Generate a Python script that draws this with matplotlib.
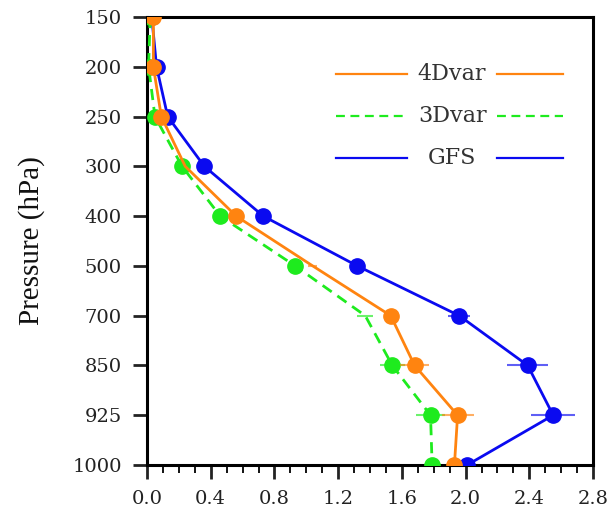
import numpy as np
import matplotlib
matplotlib.use("Agg")
import matplotlib.pyplot as plt

# Pressure levels (hPa), top of the profile first
levels = [150, 200, 250, 300, 400, 500, 700, 850, 925, 1000]

# Profiles of each experiment at those levels
vals_4dvar = [0.04, 0.04, 0.09, 0.24, 0.56, 1.04, 1.53, 1.68, 1.95, 1.93]
vals_3dvar = [0.02, 0.01, 0.05, 0.22, 0.46, 0.93, 1.37, 1.54, 1.78, 1.79]
vals_gfs = [0.03, 0.06, 0.13, 0.36, 0.73, 1.32, 1.96, 2.39, 2.55, 2.01]

# Horizontal half-widths of the spread bars
err_4dvar = [0.0, 0.0, 0.0, 0.0, 0.0, 0.03, 0.03, 0.09, 0.10, 0.0]
err_3dvar = [0.0, 0.0, 0.0, 0.0, 0.0, 0.0, 0.05, 0.08, 0.09, 0.0]
err_gfs = [0.0, 0.0, 0.0, 0.0, 0.0, 0.0, 0.07, 0.13, 0.14, 0.0]

# Whether a dot is drawn at each level
dots_4dvar = [1, 1, 1, 0, 1, 0, 1, 1, 1, 1]
dots_3dvar = [1, 1, 1, 1, 1, 1, 0, 1, 1, 1]
dots_gfs = [1, 1, 1, 1, 1, 1, 1, 1, 1, 1]

x_ticks = [0.0, 0.4, 0.8, 1.2, 1.6, 2.0, 2.4, 2.8]

c_4d = "#FF8410"
c_3d = "#1EEB1E"
c_gfs = "#0A0AF0"

serif_wide = ["DejaVu Serif"]
serif = ["Liberation Serif", "DejaVu Serif"]

fig = plt.figure(figsize=(6.15, 5.09), dpi=100)
ax = fig.add_axes([147 / 615, 1 - 465 / 509, 446 / 615, 448 / 509])

ypos = np.arange(len(levels))


def draw(vals, errs, dots, color, ls, z):
    vals = np.asarray(vals, float)
    errs = np.asarray(errs, float)
    m = np.asarray(dots, bool)
    ax.plot(vals, ypos, color=color, lw=2.0, ls=ls, zorder=z)
    e = errs > 0
    ax.hlines(ypos[e], vals[e] - errs[e], vals[e] + errs[e], color=color,
              lw=1.5, alpha=0.65, zorder=z)
    ax.plot(vals[m], ypos[m], "o", color=color, ms=11, mec=color, zorder=z + 0.5)


draw(vals_gfs, err_gfs, dots_gfs, c_gfs, "-", 3)
draw(vals_3dvar, err_3dvar, dots_3dvar, c_3d, (0, (4, 2.5)), 4)
draw(vals_4dvar, err_4dvar, dots_4dvar, c_4d, "-", 5)

ax.set_xlim(0, 2.8)
ax.set_ylim(len(levels) - 1, 0)
ax.set_xticks(x_ticks)
ax.set_xticklabels([f"{t:.1f}" for t in x_ticks])
ax.set_xticks(np.arange(0, 2.81, 0.1), minor=True)
ax.set_yticks(ypos)
ax.set_yticklabels([str(l) for l in levels])

for s in ax.spines.values():
    s.set_linewidth(2.2)
ax.tick_params(axis="both", which="major", direction="out", length=10, width=2,
               labelsize=14, colors="#222222")
ax.tick_params(axis="x", which="minor", direction="out", length=6, width=1.3)
ax.tick_params(axis="y", which="minor", left=False)
for lab in ax.get_xticklabels() + ax.get_yticklabels():
    lab.set_family(serif_wide)
ax.tick_params(axis="x", pad=8)
ax.tick_params(axis="y", pad=8)

ax.set_ylabel("Pressure (hPa)", fontsize=21, family=serif, color="#111111")
ax.yaxis.set_label_coords(-0.229, 0.5)

# Legend with the line sample on both sides of each name
legend_rows = [("4Dvar", c_4d, "-", 0.873), ("3Dvar", c_3d, (0, (4, 2.5)), 0.779),
               ("GFS", c_gfs, "-", 0.685)]
for name, col, ls, yy in legend_rows:
    ax.plot([0.424, 0.583], [yy, yy], transform=ax.transAxes, color=col, lw=1.6, ls=ls)
    ax.plot([0.785, 0.932], [yy, yy], transform=ax.transAxes, color=col, lw=1.6, ls=ls)
    ax.text(0.684, yy, name, transform=ax.transAxes, ha="center", va="center",
            fontsize=16, family=serif_wide, color="#333333")

fig.savefig("out.png", dpi=100)
